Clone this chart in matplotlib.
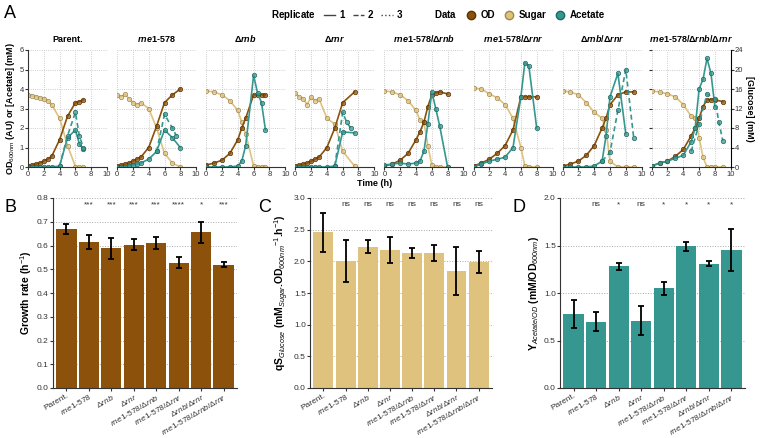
import matplotlib.pyplot as plt
import numpy as np
from matplotlib.lines import Line2D

W, H = 763, 438
BROWN = "#8C510A"
SUGAR_C = "#DFC27D"
ACET_C = "#35978F"

STRAINS = ["Parent.", r"$\mathit{rne}$1-578", r"$\Delta\mathit{rnb}$", r"$\Delta\mathit{rnr}$",
           r"$\mathit{rne}$1-578/$\Delta\mathit{rnb}$", r"$\mathit{rne}$1-578/$\Delta\mathit{rnr}$",
           r"$\Delta\mathit{rnb}$/$\Delta\mathit{rnr}$",
           r"$\mathit{rne}$1-578/$\Delta\mathit{rnb}$/$\Delta\mathit{rnr}$"]

# time courses (rep 1); sugar in mM glucose (right axis), OD and acetate on left axis
T = [
    [0, 0.5, 1, 1.5, 2, 2.5, 3, 4, 5, 6, 6.5, 7],
    [0, 0.5, 1, 1.5, 2, 2.5, 3, 4, 5, 6, 7, 8],
    [0, 1, 2, 3, 4, 4.5, 5, 6, 6.5, 7, 7.5],
    [0, 0.5, 1, 1.5, 2, 2.5, 3, 4, 5, 6, 7.5],
    [0, 1, 2, 3, 4, 4.5, 5, 5.5, 6, 6.5, 7, 8],
    [0, 1, 2, 3, 4, 5, 6, 6.5, 7, 8],
    [0, 1, 2, 3, 4, 5, 5.5, 6, 7, 8, 9],
    [0, 1, 2, 3, 4, 5, 5.5, 6, 6.5, 7, 7.5, 8, 9],
]
OD = [
    [0.05, 0.1, 0.15, 0.2, 0.3, 0.4, 0.55, 1.4, 2.6, 3.3, 3.35, 3.45],
    [0.05, 0.1, 0.15, 0.2, 0.3, 0.4, 0.5, 1.0, 2.1, 3.3, 3.7, 4.0],
    [0.1, 0.2, 0.35, 0.7, 1.4, 2.0, 2.5, 3.7, 3.7, 3.7, 3.7],
    [0.05, 0.1, 0.15, 0.2, 0.3, 0.4, 0.5, 1.0, 2.0, 3.3, 3.85],
    [0.05, 0.15, 0.35, 0.7, 1.4, 1.8, 2.3, 3.1, 3.7, 3.8, 3.85, 3.75],
    [0.05, 0.2, 0.4, 0.7, 1.1, 1.9, 3.6, 3.6, 3.6, 3.6],
    [0.05, 0.15, 0.3, 0.6, 1.1, 2.0, 2.5, 3.2, 3.7, 3.85, 3.85],
    [0.05, 0.2, 0.3, 0.55, 0.9, 1.6, 2.0, 2.5, 3.1, 3.45, 3.45, 3.45, 3.35],
]
SUGAR = [
    [14.8, 14.6, 14.4, 14.2, 14.0, 13.6, 12.8, 10.0, 4.4, 0.1, 0, 0],
    [14.8, 14.4, 15.0, 14.0, 13.2, 12.8, 13.2, 12.0, 8.0, 2.8, 0.8, 0],
    [15.6, 15.4, 14.8, 13.6, 11.6, 9.2, 6.8, 0.2, 0, 0, 0],
    [15.2, 14.4, 14.0, 12.8, 14.4, 13.6, 14.0, 10.0, 8.8, 3.2, 0.2],
    [15.6, 15.4, 14.8, 13.6, 11.6, 9.6, 9.2, 4.4, 0.4, 0, 0, 0],
    [16.2, 16.0, 15.0, 14.2, 12.8, 10.0, 4.0, 0.2, 0, 0],
    [15.6, 15.4, 14.8, 13.2, 11.2, 10.0, 7.6, 1.2, 0, 0, 0],
    [15.6, 15.4, 15.0, 14.4, 12.8, 10.4, 10.0, 6.0, 2.0, 0, 0, 0, 0],
]
ACET = [
    [0, 0, 0, 0, 0, 0, 0, 0.05, 1.5, 1.9, 1.2, 0.9],
    [0, 0, 0, 0.05, 0.1, 0.15, 0.2, 0.4, 0.8, 1.9, 1.5, 1.0],
    [0, 0, 0, 0, 0.05, 0.3, 1.1, 4.7, 3.8, 3.3, 1.9],
    [0, 0, 0, 0, 0, 0, 0, 0, 0.05, 1.8, 1.75],
    [0.1, 0.15, 0.2, 0.15, 0.2, 0.3, 0.8, 2.2, 3.85, 3.0, 2.1, 0],
    [0, 0.15, 0.3, 0.4, 0.5, 1.0, 3.6, 5.35, 5.2, 2.0],
    [0, 0, 0, 0, 0.05, 0.3, 1.6, 3.6, 4.8, 1.7, np.nan],
    [0.05, 0.2, 0.3, 0.45, 0.6, 1.3, 2.0, 4.0, 4.5, 5.57, 4.8, 3.1, np.nan],
]
# replicate 2 acetate (dashed)
T2 = [[4, 5, 6, 6.5, 7], [5, 6, 7, 7.5], [], [5, 6, 6.5, 7], [], [], [5, 6, 7, 8, 9], [5, 6, 7, 8, 8.5, 9]]
ACET2 = [[0.05, 1.6, 2.8, 1.6, 1.0], [0.8, 2.7, 2.0, 1.6], [], [0.05, 2.8, 2.3, 2.0], [], [],
         [0.3, 0.75, 2.9, 5.0, 1.5], [0.8, 2.2, 3.75, 3.5, 2.3, 1.35]]

GROWTH = [0.67, 0.615, 0.588, 0.604, 0.61, 0.528, 0.655, 0.52]
GROWTH_ERR = [0.02, 0.028, 0.045, 0.025, 0.025, 0.022, 0.045, 0.012]
GROWTH_SIG = ["", "***", "***", "***", "***", "****", "*", "***"]
QS = [2.46, 2.0, 2.23, 2.18, 2.13, 2.13, 1.85, 1.99]
QS_ERR = [0.31, 0.33, 0.1, 0.2, 0.08, 0.13, 0.38, 0.18]
QS_SIG = [""] + ["ns"] * 7
YLD = [0.78, 0.70, 1.28, 0.71, 1.05, 1.49, 1.31, 1.45]
YLD_ERR = [0.15, 0.1, 0.04, 0.15, 0.07, 0.05, 0.03, 0.22]
YLD_SIG = ["", "ns", "*", "ns", "*", "*", "*", "*"]

plt.rcParams["font.family"] = ["Liberation Sans", "DejaVu Sans"]
plt.rcParams["mathtext.fontset"] = "custom"
plt.rcParams["mathtext.it"] = "Liberation Sans:italic"
plt.rcParams["mathtext.rm"] = "Liberation Sans"
plt.rcParams["mathtext.bf"] = "Liberation Sans:bold"
plt.rcParams["mathtext.bfit"] = "Liberation Sans:italic:bold"

fig = plt.figure(figsize=(W / 100, H / 100), dpi=100)


def px_axes(x0, y0, x1, y1):
    return fig.add_axes([x0 / W, 1 - y1 / H, (x1 - x0) / W, (y1 - y0) / H])


def style(ax):
    for s in ["top", "right"]:
        ax.spines[s].set_visible(False)
    ax.spines["left"].set_color("#333333")
    ax.spines["bottom"].set_color("#333333")
    ax.tick_params(labelsize=5.5, length=2, pad=1, colors="#333333")


# ---- panel A
for i in range(8):
    x0 = 28 + i * 89.1
    ax = px_axes(x0, 50, x0 + 79, 167)
    style(ax)
    ax.grid(True, ls=":", color="#bbbbbb", lw=0.6)
    t = np.array(T[i])
    kw = dict(marker="o", ms=3.2, lw=1.2, mew=0.5)
    ax.plot(t, np.array(SUGAR[i]) / 4, color=SUGAR_C, mec="#a08850", mfc=SUGAR_C + "aa", **kw)
    ax.plot(t, OD[i], color=BROWN, mec="#5a3406", mfc=BROWN + "bb", **kw)
    ax.plot(t, ACET[i], color=ACET_C, mec="#1f6a63", mfc=ACET_C + "bb", **kw)
    if T2[i]:
        ax.plot(T2[i], ACET2[i], color=ACET_C, ls=(0, (3, 2)), mec="#1f6a63",
                mfc=ACET_C + "bb", **kw)
    ax.set_xlim(0, 10)
    ax.set_ylim(0, 6)
    ax.set_xticks(range(0, 11, 2))
    ax.set_yticks(range(7))
    ax.margins(0)
    title = STRAINS[i].replace(r"\mathit", r"\mathbfit").replace(r"\Delta", r"\mathbf{\Delta}")
    ax.set_title(title, fontsize=6.5, fontweight="bold", pad=6)
    if i > 0:
        ax.spines["left"].set_visible(False)
        ax.tick_params(left=False, labelleft=False)
    else:
        ax.set_ylabel("OD$_{600nm}$ (AU) or [Acetate] (mM)", fontsize=6.5, fontweight="bold", labelpad=2)
    if i == 7:
        ax2 = ax.twinx()
        ax2.set_ylim(0, 24)
        ax2.set_yticks(range(0, 25, 4))
        for s in ["top", "left", "bottom"]:
            ax2.spines[s].set_visible(False)
        ax2.tick_params(labelsize=5.5, length=2, pad=1, colors="#333333")
        ax2.set_ylabel("[Glucose] (mM)", fontsize=6.5, fontweight="bold", rotation=270, labelpad=8)
fig.text(375 / W, 1 - 184 / H, "Time (h)", fontsize=6.5, fontweight="bold", ha="center", va="center")

handles = [Line2D([], [], color="none", label=r"$\bf{Replicate}$"),
           Line2D([], [], color="#444444", lw=1, label="1"),
           Line2D([], [], color="#444444", lw=1, ls="--", label="2"),
           Line2D([], [], color="#444444", lw=1, ls=":", label="3"),
           Line2D([], [], color="none", label=r"   $\bf{Data}$"),
           Line2D([], [], color="none", marker="o", mfc=BROWN, mec="#5a3406", ms=6, label="OD"),
           Line2D([], [], color="none", marker="o", mfc=SUGAR_C, mec="#a08850", ms=6, label="Sugar"),
           Line2D([], [], color="none", marker="o", mfc=ACET_C, mec="#1f6a63", ms=6, label="Acetate")]
fig.legend(handles=handles, ncol=8, loc="center", bbox_to_anchor=(430 / W, 1 - 15 / H),
           frameon=False, handlelength=1.2, handletextpad=0.4, columnspacing=0.8,
           prop={"weight": "bold", "size": 7})


# ---- bottom bars
def bar_panel(x0, x1, vals, errs, sig, color, ymax, yticks, ylabel, fmt):
    ax = px_axes(x0, 198, x1, 388)
    style(ax)
    x = np.arange(len(vals))
    ax.bar(x, vals, width=0.9, color=color)
    ax.errorbar(x, vals, yerr=errs, fmt="none", ecolor="black", elinewidth=1.3, capsize=2.5, capthick=1.3)
    for xi, s in zip(x, sig):
        ax.text(xi, ymax * 0.965, s, ha="center", va="center", fontsize=6, color="#333333")
    ax.set_xlim(-0.6, len(vals) - 0.4)
    ax.set_ylim(0, ymax)
    ax.set_yticks(yticks)
    ax.set_yticklabels([fmt.format(v) for v in yticks])
    ax.yaxis.grid(True, ls=":", color="#aaaaaa", lw=0.7)
    ax.set_axisbelow(True)
    ax.set_xticks(x)
    ax.set_xticklabels(STRAINS, rotation=30, ha="right", rotation_mode="anchor", fontsize=6)
    ax.tick_params(axis="y", labelsize=6)
    ax.set_ylabel(ylabel, fontsize=7.5, fontweight="bold", labelpad=2)
    return ax


bar_panel(53, 237, GROWTH, GROWTH_ERR, GROWTH_SIG, BROWN, 0.8, np.arange(0, 0.81, 0.1),
          r"Growth rate (h$^{-1}$)", "{:.1f}")
bar_panel(310, 492, QS, QS_ERR, QS_SIG, SUGAR_C, 3.0, np.arange(0, 3.01, 0.5),
          r"qS$_{Glucose}$ (mM$_{Sugar}$.OD$_{600nm}$$^{-1}$.h$^{-1}$)", "{:.1f}")
bar_panel(560, 745, YLD, YLD_ERR, YLD_SIG, ACET_C, 2.0, np.arange(0, 2.01, 0.5),
          r"Y$_{Acetate/OD}$ (mM/OD$_{600nm}$)", "{:.1f}")

for lbl, x, y in [("A", 4, 14), ("B", 4, 208), ("C", 258, 208), ("D", 512, 208)]:
    fig.text(x / W, 1 - y / H, lbl, fontsize=13, va="center")

fig.savefig("out.png", dpi=100)
